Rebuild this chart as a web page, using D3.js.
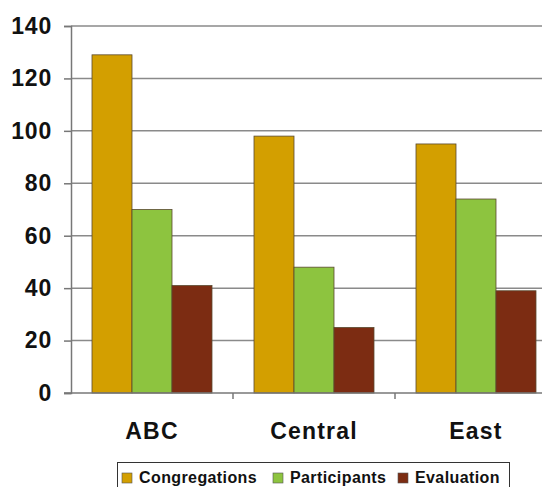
<!DOCTYPE html>
<html><head><meta charset="utf-8">
<script src="https://cdn.jsdelivr.net/npm/d3@7"></script>
<style>body{margin:0;background:#fff}svg{display:block}</style>
</head><body><svg id="c" width="542" height="487"></svg>
<script>
const categories = ["ABC", "Central", "East"];
const seriesNames = ["Congregations", "Participants", "Evaluation"];
const congregations = [129, 98, 95];
const participants = [70, 48, 74];
const evaluation = [41, 25, 39];
const yTicks = [0, 20, 40, 60, 80, 100, 120, 140];
const colors = ["#d39f00", "#8dc43f", "#7c2c12"];

const values = [congregations, participants, evaluation];
const svg = d3.select("#c");
const font = "Liberation Sans, Arial, sans-serif";
const x0 = d3.scaleBand().domain(categories).range([71, 557]).paddingInner(0).paddingOuter(0);
const y = d3.scaleLinear().domain([0, 140]).range([393, 26]);
const x1 = d3.scaleBand().domain(seriesNames).range([21, 141]);

// gridlines
svg.append("g").selectAll("line").data(yTicks.filter(d => d > 0)).join("line")
  .attr("x1", 71).attr("x2", 542).attr("y1", d => y(d)).attr("y2", d => y(d))
  .attr("stroke", "#8a8a8a").attr("stroke-width", 1.5);

// bars
const g = svg.append("g");
categories.forEach((c, i) => {
  seriesNames.forEach((s, j) => {
    g.append("rect")
      .attr("x", x0(c) + x1(s)).attr("width", x1.bandwidth())
      .attr("y", y(values[j][i])).attr("height", y(0) - y(values[j][i]))
      .attr("fill", colors[j]).attr("stroke", "#5a4a30").attr("stroke-width", 0.8);
  });
});

// y axis
const ya = svg.append("g").attr("transform", "translate(71,0)")
  .call(d3.axisLeft(y).tickValues(yTicks).tickSize(7).tickPadding(12));
ya.select(".domain").attr("stroke", "#777").attr("stroke-width", 1.5);
ya.selectAll(".tick line").attr("stroke", "#777").attr("stroke-width", 1.5);
ya.selectAll("text").attr("font-family", font).attr("font-weight", "bold").attr("font-size", 23)
  .attr("letter-spacing", 0.8).attr("fill", "#111");

// x axis
svg.append("line").attr("x1", 64).attr("x2", 542).attr("y1", y(0)).attr("y2", y(0))
  .attr("stroke", "#777").attr("stroke-width", 1.5);
svg.append("g").selectAll("line").data(categories.slice(1)).join("line")
  .attr("x1", d => x0(d)).attr("x2", d => x0(d)).attr("y1", y(0)).attr("y2", y(0) + 6)
  .attr("stroke", "#777").attr("stroke-width", 1.5);
svg.append("g").selectAll("text").data(categories).join("text")
  .attr("x", d => x0(d) + 81).attr("y", 439).attr("text-anchor", "middle")
  .attr("font-family", font).attr("font-weight", "bold").attr("font-size", 23)
  .attr("letter-spacing", 1.2).attr("fill", "#111")
  .text(d => d);

// legend
const lg = svg.append("g");
lg.append("rect").attr("x", 117.5).attr("y", 462.5).attr("width", 392).attr("height", 30)
  .attr("fill", "#fff").attr("stroke", "#333").attr("stroke-width", 1);
const legX = [122, 273, 398];
seriesNames.forEach((s, j) => {
  lg.append("rect").attr("x", legX[j]).attr("y", 473).attr("width", 10).attr("height", 10)
    .attr("fill", colors[j]).attr("stroke", "#555").attr("stroke-width", 0.6);
  lg.append("text").attr("x", legX[j] + 17).attr("y", 483)
    .attr("font-family", font).attr("font-weight", "bold").attr("font-size", 16)
    .attr("letter-spacing", 0.4).attr("fill", "#111")
    .text(s);
});
</script></body></html>
